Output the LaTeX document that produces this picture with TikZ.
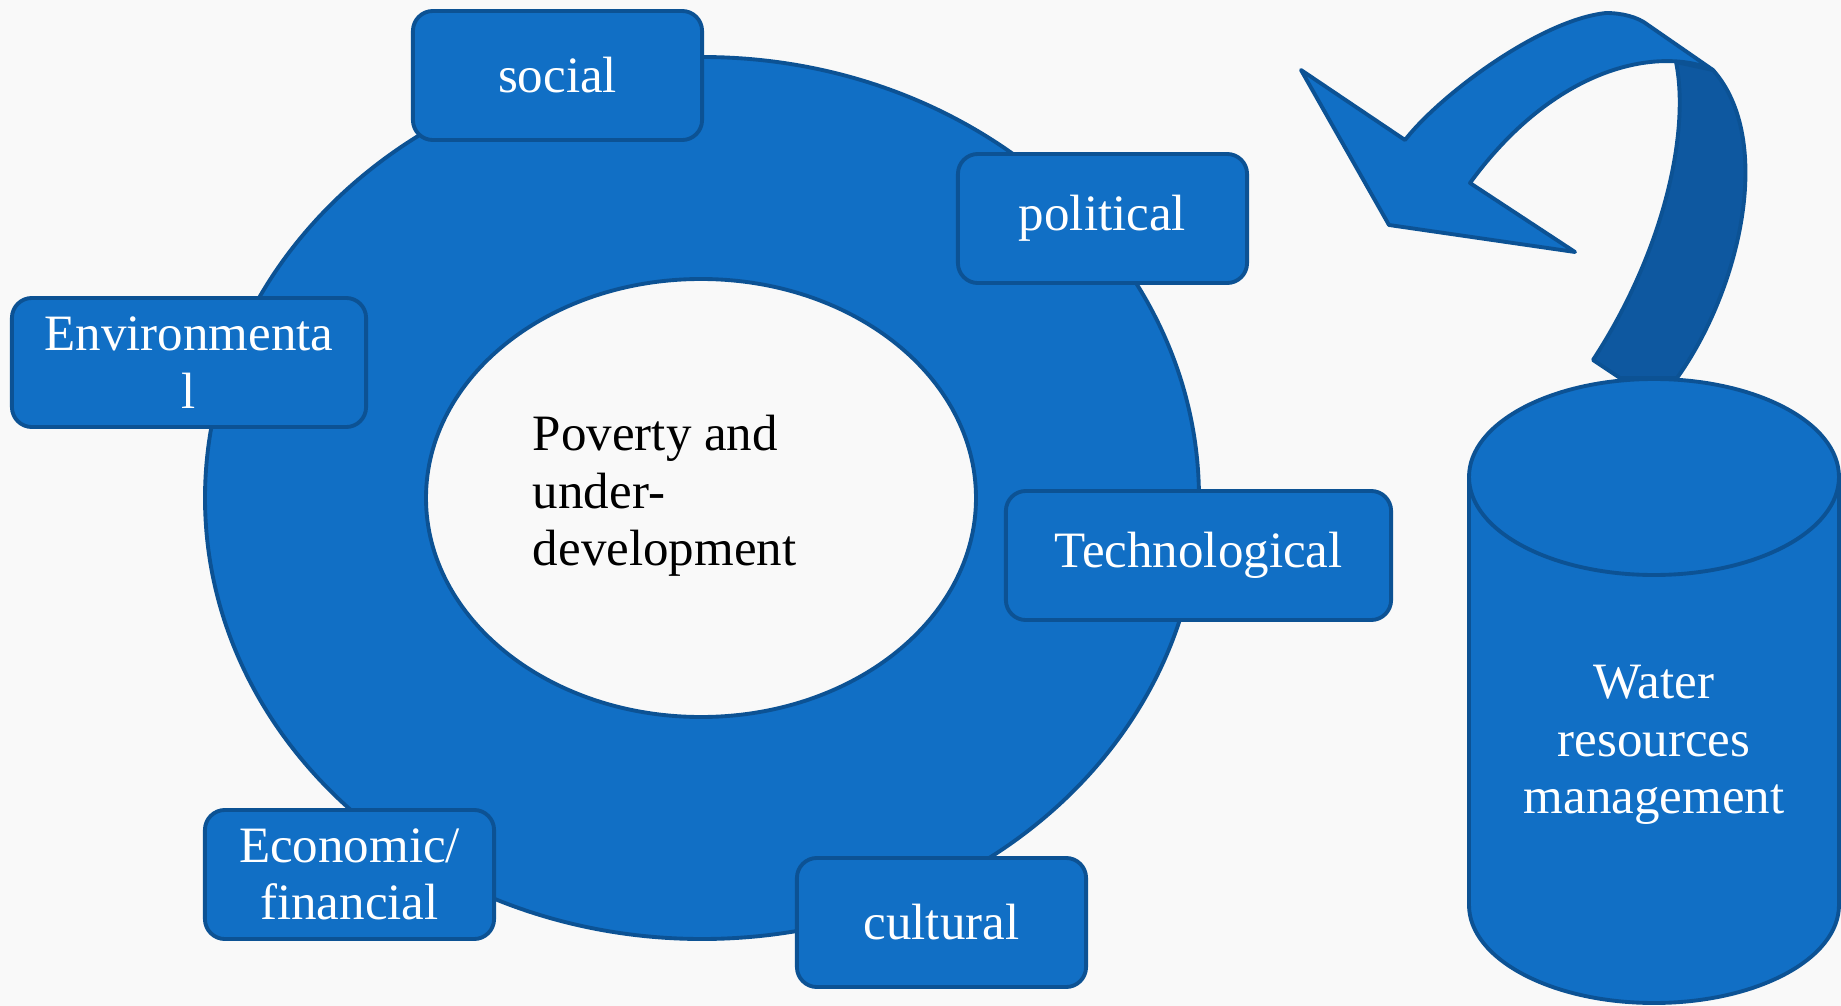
\documentclass[tikz,border=0pt]{standalone}
\usepackage{fontspec}
\setmainfont{Liberation Serif}
\definecolor{bgcol}{RGB}{249,249,249}
\definecolor{fillblue}{RGB}{17,111,197}
\definecolor{lineblue}{RGB}{12,82,148}
\definecolor{foldblue}{RGB}{14,88,160}
\tikzset{panel/.style={draw=lineblue,fill=fillblue,line join=round},
         hole/.style={draw=lineblue,fill=bgcol},
         fold/.style={draw=lineblue,fill=foldblue,line join=round},
         factor/.style={draw=lineblue,fill=fillblue,rounded corners=0.2cm,
                        minimum width=2.89cm,minimum height=1.29cm,inner sep=0pt,
                        align=center,text=white,font=\fontsize{14.5}{16.3}\selectfont},
         core/.style={anchor=west,align=left,inner sep=0pt,text=black,
                      font=\fontsize{14.5}{16.3}\selectfont},
         tank/.style={align=center,inner sep=0pt,text=white,
                      font=\fontsize{14.5}{16.3}\selectfont}
         }
\begin{document}
\begin{tikzpicture}[x=0.01cm,y=-0.01cm,line width=1.1pt]
\fill[bgcol] (0,0) rectangle (1841,1006);
\useasboundingbox (0,0) rectangle (1841,1006);
\draw[panel] (702,498) ellipse [x radius=497,y radius=441];
\draw[hole] (701,498) ellipse [x radius=275,y radius=219];
\node[core] (core) at (531,496) {Poverty and\\under-\\development};
\node[factor] (social) at (557.5,75.5) {social};
\node[factor] (political) at (1102.5,218.5) {political};
\node[factor,minimum width=3.54cm] (environ) at (189,362.5) {Environmenta\\l};
\node[factor,minimum width=3.85cm] (techno) at (1198.5,555.5) {Technological};
\node[factor] (econ) at (349.5,874.5) {Economic/\\financial};
\node[factor] (cultural) at (941.5,922.5) {cultural};
\draw[fold] (1676,62) .. controls (1690,130) and (1665,250) .. (1593,360) -- (1620,378)
  -- (1677,378) .. controls (1740,290) and (1775,140) .. (1713,70) -- cycle;
\draw[panel] (1301,70) -- (1405,140) .. controls (1440,95) and (1540,20) .. (1606,13)
  .. controls (1622,13) and (1638,17) .. (1648,25) -- (1713,70)
  .. controls (1665,48) and (1560,60) .. (1470,183) -- (1575,252) -- (1389,225) -- cycle;
\draw[panel] (1469,477) -- (1469,905) arc [start angle=180,end angle=0,x radius=185,y radius=98]
  -- (1839,477);
\draw[panel] (1654,477) ellipse [x radius=185,y radius=98];
\node[tank] (water) at (1654,745) {Water\\resources\\management};
\end{tikzpicture}
\end{document}
